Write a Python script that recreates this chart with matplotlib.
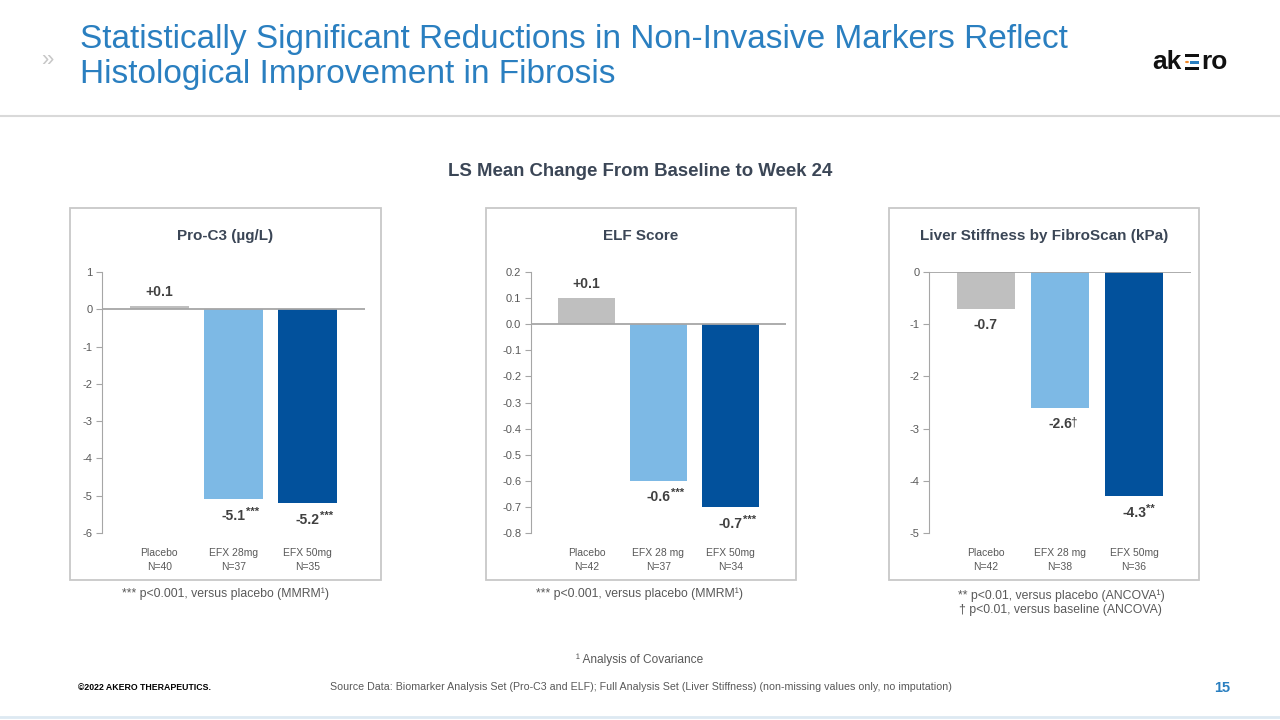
"""Akero slide: LS mean change from baseline to week 24, three bar panels."""

import numpy as np
import matplotlib.pyplot as plt
from matplotlib.patches import Rectangle, Circle

plt.rcParams['font.family'] = ['Liberation Sans', 'DejaVu Sans']
plt.rcParams['axes.unicode_minus'] = False

# ---- data -------------------------------------------------------------
proc3_groups = ['Placebo\nN=40', 'EFX 28mg\nN=37', 'EFX 50mg\nN=35']
proc3_values = [0.1, -5.1, -5.2]
proc3_marks = ['', '***', '***']

elf_groups = ['Placebo\nN=42', 'EFX 28 mg\nN=37', 'EFX 50mg\nN=34']
elf_values = [0.1, -0.6, -0.7]
elf_marks = ['', '***', '***']

ls_groups = ['Placebo\nN=42', 'EFX 28 mg\nN=38', 'EFX 50mg\nN=36']
ls_values = [-0.7, -2.6, -4.3]
ls_marks = ['', '\u2020', '**']

bar_colors = ['#bfbfbf', '#7db9e5', '#02519c']
W, H = 1280, 720
DARK = '#3b4656'
GREY = '#595959'
BLUE = '#2a7fc0'


def fx(x):
  return x / W


def fy(y):
  return 1 - y / H


def add_rect(fig, x0, y0, x1, y1, **kw):
  """Rectangle given in pixel coordinates (y down)."""
  fig.add_artist(Rectangle((fx(x0), fy(y1)), (x1 - x0) / W, (y1 - y0) / H,
                           transform=fig.transFigure, **kw))


def draw_logo(fig):
  fig.text(fx(1152), fy(62), 'ak', ha='left', va='center', fontsize=19,
           fontweight='bold', color='#111111')
  fig.text(fx(1201), fy(62), 'ro', ha='left', va='center', fontsize=19,
           fontweight='bold', color='#111111')
  # the stylised "e": three bars, middle one blue with an orange dot
  add_rect(fig, 1185, 54, 1199, 57, color='#111111', lw=0)
  add_rect(fig, 1190, 60.5, 1199, 63.5, color=BLUE, lw=0)
  add_rect(fig, 1185, 67, 1199, 70, color='#111111', lw=0)
  fig.add_artist(Circle((fx(1187), fy(62)), 2.0 / W, transform=fig.transFigure,
                        color='#f0892a', lw=0))


def draw_panel(fig, box, axbox, title, groups, values, marks, ylim, yticks, fmt):
  """Draws one framed bar panel; box and axbox are pixel extents."""
  x0, y0, x1, y1 = box
  add_rect(fig, x0, y0, x1, y1, fill=False, ec='#c8c8c8', lw=1.3)
  fig.text(fx((x0 + x1) / 2), fy(236), title, ha='center', va='center',
           fontsize=11, fontweight='bold', color=DARK)

  a0, b0, a1, b1 = axbox
  ax = fig.add_axes([fx(a0), fy(b1), (a1 - a0) / W, (b1 - b0) / H])
  pos = np.arange(len(values))
  ax.bar(pos, values, width=0.79, color=bar_colors, zorder=2)
  ax.axhline(0, color='#a6a6a6', lw=1.3, zorder=3)
  ax.set_xlim(-0.77, 2.77)
  ax.set_ylim(*ylim)
  ax.set_yticks(yticks)
  ax.set_yticklabels([fmt.format(round(t, 1) + 0.0) for t in yticks])
  ax.set_xticks(pos)
  ax.set_xticklabels(groups, fontsize=7.5, color=GREY, linespacing=1.5)
  ax.tick_params(axis='x', length=0, pad=11)
  ax.tick_params(axis='y', length=4, width=0.8, color='#a6a6a6',
                 labelsize=8, labelcolor=GREY, pad=3)
  for s in ['top', 'right', 'bottom']:
    ax.spines[s].set_visible(False)
  ax.spines['left'].set_color('#a6a6a6')
  ax.patch.set_alpha(0)

  for i, (v, m) in enumerate(zip(values, marks)):
    txt = f'+{v:.1f}' if v > 0 else f'{v:.1f}'
    off = 10 if v > 0 else -12
    t = ax.annotate(txt, (i, v), xytext=(0, off), textcoords='offset points',
                    ha='center', va='center', fontsize=10, fontweight='bold',
                    color='#404040')
    if not m:
      continue
    if '*' in m:
      ax.annotate(m, xy=(1, 0.8), xycoords=t, xytext=(0.2, 0),
                  textcoords='offset points', ha='left', va='center',
                  fontsize=8, fontweight='bold', color='#404040')
    else:
      ax.annotate(m, xy=(1, 0.62), xycoords=t, xytext=(-1.2, 0),
                  textcoords='offset points', ha='left', va='center',
                  fontsize=8.5, color='#404040')
  return ax


def main():
  fig = plt.figure(figsize=(12.8, 7.2), dpi=100)

  # header
  fig.text(fx(80), fy(48), 'Statistically Significant Reductions in Non-Invasive '
           'Markers Reflect', ha='left', va='baseline', fontsize=24, color=BLUE)
  fig.text(fx(80), fy(83), 'Histological Improvement in Fibrosis', ha='left',
           va='baseline', fontsize=24, color=BLUE)
  fig.text(fx(47), fy(60), '\u00bb', ha='center', va='center', fontsize=16,
           color='#c8c8c8')
  draw_logo(fig)
  fig.add_artist(plt.Line2D([0, 1], [fy(116), fy(116)], color='#d9d9d9', lw=1.5))

  fig.text(fx(640), fy(172), 'LS Mean Change From Baseline to Week 24',
           ha='center', va='center', fontsize=13.4, fontweight='bold', color=DARK)

  draw_panel(fig, (70, 208, 381, 580), (102, 272, 365, 533), 'Pro-C3 (\u00b5g/L)',
             proc3_groups, proc3_values, proc3_marks, (-6, 1),
             np.arange(-6, 2), '{:.0f}')
  draw_panel(fig, (486, 208, 796, 580), (531, 272, 786, 533), 'ELF Score',
             elf_groups, elf_values, elf_marks, (-0.8, 0.2),
             np.linspace(-0.8, 0.2, 11), '{:.1f}')
  draw_panel(fig, (889, 208, 1199, 580), (929, 272, 1191, 533),
             'Liver Stiffness by FibroScan (kPa)',
             ls_groups, ls_values, ls_marks, (-5, 0),
             np.arange(-5, 1), '{:.0f}')

  # footnotes
  fn = dict(ha='center', va='center', fontsize=8.8, color=GREY)
  fig.text(fx(225), fy(594), '*** p<0.001, versus placebo (MMRM\u00b9)', **fn)
  fig.text(fx(640), fy(594), '*** p<0.001, versus placebo (MMRM\u00b9)', **fn)
  fig.text(fx(1061), fy(596), '** p<0.01, versus placebo (ANCOVA\u00b9)', **fn)
  fig.text(fx(1060), fy(610), '\u2020 p<0.01, versus baseline (ANCOVA)', **fn)
  fig.text(fx(640), fy(660), '\u00b9 Analysis of Covariance', ha='center',
           va='center', fontsize=8.6, color=GREY)

  # footer
  fig.text(fx(78), fy(687), '\u00a92022 AKERO THERAPEUTICS.', ha='left',
           va='center', fontsize=6.3, fontweight='bold', color='black')
  fig.text(fx(330), fy(687), 'Source Data: Biomarker Analysis Set (Pro-C3 and ELF); '
           'Full Analysis Set (Liver Stiffness) (non-missing values only, no imputation)',
           ha='left', va='center', fontsize=7.65, color=GREY)
  fig.text(fx(1222), fy(688), '15', ha='center', va='center', fontsize=10.5,
           fontweight='bold', color=BLUE)
  fig.add_artist(plt.Line2D([0, 1], [fy(717), fy(717)], color='#dde9f2', lw=2))

  plt.savefig('out.png', dpi=100)


if __name__ == '__main__':
  main()
